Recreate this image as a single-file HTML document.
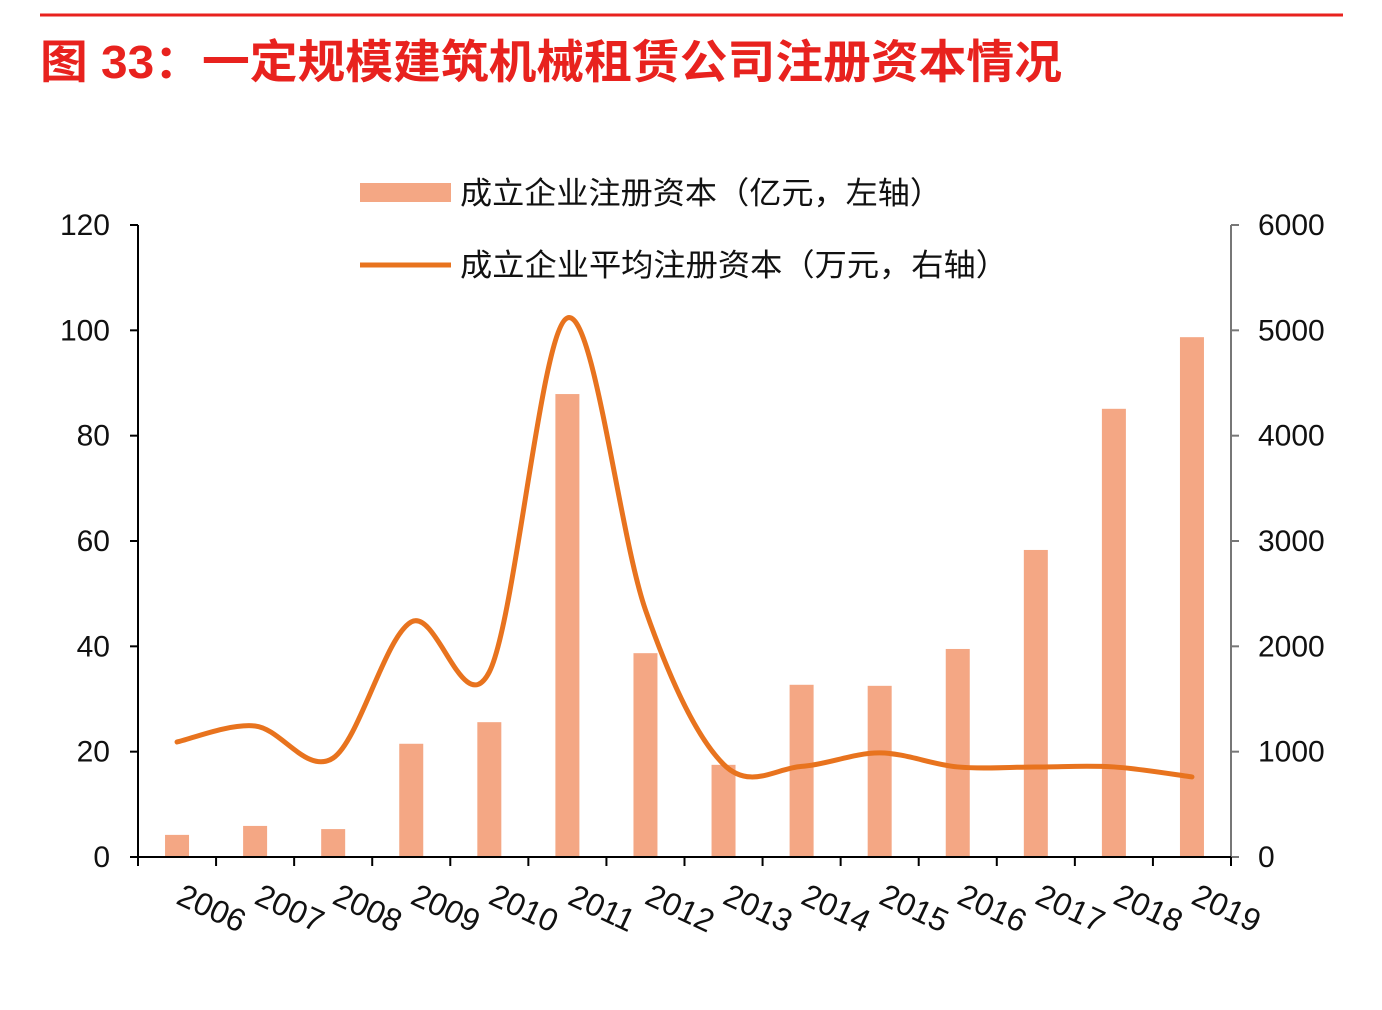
<!DOCTYPE html>
<html><head><meta charset="utf-8"><style>
body{margin:0;background:#fff;}
svg{display:block;font-family:"Liberation Sans","Noto Sans CJK SC",sans-serif;}
</style></head><body>
<svg id="c" width="1382" height="1010" viewBox="0 0 1382 1010">
<line x1="40" y1="15" x2="1343" y2="15" stroke="#e8221e" stroke-width="3"/>
<text x="40" y="78" font-size="46" font-weight="bold" fill="#e8221e" textLength="1022" lengthAdjust="spacingAndGlyphs">图 33：一定规模建筑机械租赁公司注册资本情况</text>
<rect x="360" y="183" width="91" height="19" fill="#f4a784"/>
<text x="460" y="204" font-size="31" fill="#111" textLength="482" lengthAdjust="spacingAndGlyphs">成立企业注册资本（亿元，左轴）</text>
<line x1="360" y1="265" x2="451" y2="265" stroke="#e8731e" stroke-width="5"/>
<text x="460" y="276" font-size="31" fill="#111" textLength="548" lengthAdjust="spacingAndGlyphs">成立企业平均注册资本（万元，右轴）</text>
<g id="g"></g>
</svg>
<script>
const categories=["2006","2007","2008","2009","2010","2011","2012","2013","2014","2015","2016","2017","2018","2019"];
const capital=[4.2,5.9,5.3,21.5,25.6,87.9,38.7,17.5,32.7,32.5,39.5,58.3,85.1,98.7];
const avgCapital=[1092,1244,940,2232,1757,5118,2346,880,860,988,855,855,855,760];
const leftTicks=[0,20,40,60,80,100,120];
const rightTicks=[0,1000,2000,3000,4000,5000,6000];
const NS="http://www.w3.org/2000/svg";
const g=document.getElementById('g');
const X0=138,X1=1231,Y0=857,Y1=225;
const bw=(X1-X0)/categories.length;
const xc=i=>X0+bw*(i+0.5);
const yl=v=>Y0-(v/120)*(Y0-Y1);
const yr=v=>Y0-(v/6000)*(Y0-Y1);
function mk(t,a){const e=document.createElementNS(NS,t);for(const k in a)e.setAttribute(k,a[k]);g.appendChild(e);return e;}
capital.forEach((v,i)=>{
 const r=mk('rect',{x:xc(i)-12,y:yl(v),width:24,height:Y0-yl(v),fill:'#f4a784'});
 
 
});
let ax=mk('line',{x1:X0,y1:Y1,x2:X0,y2:Y0,stroke:'#000','stroke-width':2});


let ax2=mk('line',{x1:X1,y1:Y1,x2:X1,y2:Y0,stroke:'#777','stroke-width':2});


let xa=mk('line',{x1:X0,y1:Y0,x2:X1+8,y2:Y0,stroke:'#000','stroke-width':2});


leftTicks.forEach(v=>{
 mk('line',{x1:X0-8,y1:yl(v),x2:X0,y2:yl(v),stroke:'#000','stroke-width':2});
 const t=mk('text',{x:110,y:yl(v)+10,'font-size':30,'text-anchor':'end',fill:'#111'});t.textContent=v;
 
 
});
rightTicks.forEach(v=>{
 mk('line',{x1:X1,y1:yr(v),x2:X1+8,y2:yr(v),stroke:'#777','stroke-width':2});
 const t=mk('text',{x:1258,y:yr(v)+10,'font-size':30,fill:'#111'});t.textContent=v;
 
 
});
for(let i=0;i<=categories.length;i++){mk('line',{x1:X0+bw*i,y1:Y0,x2:X0+bw*i,y2:Y0+9,stroke:'#000','stroke-width':2});}
categories.forEach((c,i)=>{
 const x=xc(i)+30,y=918;
 const t=mk('text',{x:x,y:y,'font-size':32,'text-anchor':'middle',fill:'#111',transform:`rotate(25 ${x} ${y})`});t.textContent=c;
 
 
});
const pts=avgCapital.map((v,i)=>[xc(i),yr(v)]);
let d=`M${pts[0][0]},${pts[0][1]}`;
for(let i=0;i<pts.length-1;i++){
 const p0=pts[Math.max(0,i-1)],p1=pts[i],p2=pts[i+1],p3=pts[Math.min(pts.length-1,i+2)];
 const c1=[p1[0]+(p2[0]-p0[0])/6,p1[1]+(p2[1]-p0[1])/6];
 const c2=[p2[0]-(p3[0]-p1[0])/6,p2[1]-(p3[1]-p1[1])/6];
 d+=` C${c1[0]},${c1[1]} ${c2[0]},${c2[1]} ${p2[0]},${p2[1]}`;
}
const ln=mk('path',{d:d,fill:'none',stroke:'#e8731e','stroke-width':5,'stroke-linecap':'round'});


</script>
</body></html>
